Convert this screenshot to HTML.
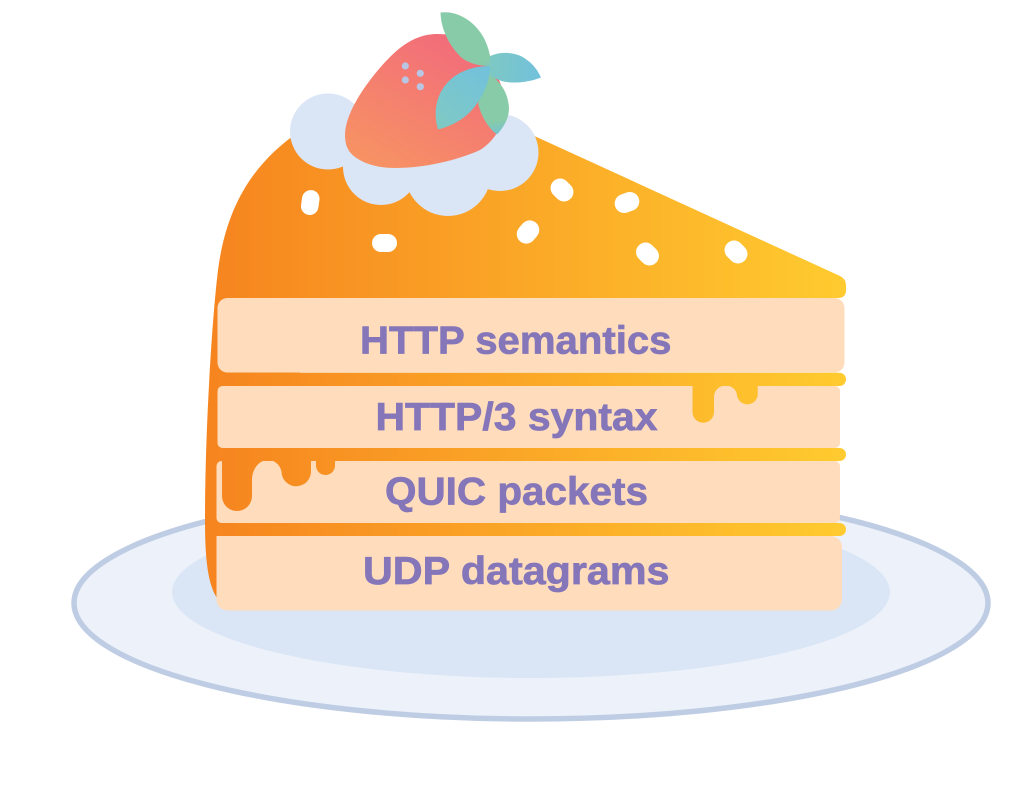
<!DOCTYPE html>
<html>
<head>
<meta charset="utf-8">
<style>
html,body{margin:0;padding:0;background:#fff;width:1028px;height:787px;overflow:hidden}
svg{display:block}
text{font-family:"Liberation Sans",sans-serif;font-weight:700;font-size:38.5px;fill:#8476b8;stroke:#8476b8;stroke-width:0.7px}
</style>
</head>
<body>
<svg width="1028" height="787" viewBox="0 0 1028 787" xmlns="http://www.w3.org/2000/svg">
<defs>
<linearGradient id="cake" gradientUnits="userSpaceOnUse" x1="205" y1="0" x2="846" y2="0">
<stop offset="0" stop-color="#f6841f"/><stop offset="1" stop-color="#ffcb2f"/>
</linearGradient>
<linearGradient id="berry" gradientUnits="userSpaceOnUse" x1="450" y1="40" x2="375" y2="170">
<stop offset="0" stop-color="#f26d7a"/><stop offset="1" stop-color="#f79363"/>
</linearGradient>
<linearGradient id="l1" gradientUnits="userSpaceOnUse" x1="445" y1="15" x2="490" y2="70">
<stop offset="0" stop-color="#88cba8"/><stop offset="0.85" stop-color="#88cba8"/><stop offset="1" stop-color="#7cc6c4"/>
</linearGradient>
<linearGradient id="l2" gradientUnits="userSpaceOnUse" x1="490" y1="70" x2="540" y2="75">
<stop offset="0" stop-color="#7dc8c4"/><stop offset="1" stop-color="#72c1dc"/>
</linearGradient>
<linearGradient id="l3" gradientUnits="userSpaceOnUse" x1="438" y1="125" x2="490" y2="68">
<stop offset="0" stop-color="#7fc9c4"/><stop offset="1" stop-color="#72c1dc"/>
</linearGradient>
<linearGradient id="l4" gradientUnits="userSpaceOnUse" x1="490" y1="80" x2="498" y2="134">
<stop offset="0" stop-color="#88cba8"/><stop offset="0.75" stop-color="#88cba8"/><stop offset="1" stop-color="#76c3d0"/>
</linearGradient>
</defs>

<!-- plate -->
<ellipse cx="531" cy="603" rx="457" ry="116" fill="#edf2fa" stroke="#bfcde4" stroke-width="5.5"/>
<ellipse cx="531" cy="592" rx="359" ry="86" fill="#dae5f5"/>

<!-- cake body -->
<path fill="url(#cake)" d="M300 131 C250 165 226 210 218 270 C212 320 205 430 205 520 C205 565 209 585 217 598 L300 598 L300 298 L838 298 Q846 298 846 290 L846 285 Q846 279 840 276 L530 134 Z"/>

<!-- layers -->
<rect x="217.500" y="298" width="627" height="74.500" rx="10" fill="#fedcbc"/>
<rect x="217.500" y="386" width="622.500" height="62" rx="5" fill="#fedcbc"/>
<rect x="216.500" y="461" width="623.500" height="62" rx="5" fill="#fedcbc"/>
<rect x="216.500" y="536" width="625.500" height="74.500" rx="11" fill="#fedcbc"/>
<path fill="#fedcbc" d="M216.500 536 H240 V560 H216.500 Z"/>

<!-- syrup strips -->
<rect x="212" y="372.700" width="634" height="13.300" rx="6.600" fill="url(#cake)"/>
<rect x="212" y="448" width="634" height="13" rx="6.500" fill="url(#cake)"/>
<rect x="212" y="523" width="634" height="13" rx="6.500" fill="url(#cake)"/>

<!-- drips -->
<path fill="url(#cake)" d="M222 460 V496 A15 15 0 0 0 252 496 V480 C252 469 259 460 268 460 C276 460 281 467 281.500 472 A14.700 14.700 0 0 0 311 471 V460 Z"/>
<path fill="url(#cake)" d="M316 460 V465.500 A9.500 9.500 0 0 0 335 465.500 V460 Z"/>
<path fill="url(#cake)" d="M692.500 385 V412 A10.700 10.700 0 0 0 714 412 V397 C714 390 720 385.500 725.500 385.500 C732 385.500 736.500 390 737 395 A10.400 10.400 0 0 0 757.700 395 V385 Z"/>

<!-- sprinkles -->
<g fill="#fff">
<rect x="301.500" y="190" width="17.500" height="25" rx="8.700" transform="rotate(8 310 202.500)"/>
<rect x="372" y="234" width="25" height="18" rx="9"/>
<rect x="515.750" y="222.500" width="24.500" height="19" rx="9.500" transform="rotate(-50 528 232)"/>
<rect x="549.750" y="180.500" width="24.500" height="19" rx="9.500" transform="rotate(45 562 190)"/>
<rect x="614.500" y="193" width="25" height="19" rx="9.500" transform="rotate(-20 627 202.500)"/>
<rect x="635.250" y="244.500" width="24.500" height="19" rx="9.500" transform="rotate(45 647.500 254)"/>
<rect x="723.750" y="242.500" width="24.500" height="19" rx="9.500" transform="rotate(45 736 252)"/>
</g>

<!-- cream -->
<g fill="#dae5f5">
<circle cx="328" cy="131.500" r="38"/>
<circle cx="381" cy="167" r="38"/>
<circle cx="448" cy="173" r="43"/>
<circle cx="500" cy="152.500" r="38.500"/>
<rect x="346" y="120" width="140" height="45"/>
</g>

<!-- strawberry -->
<path fill="url(#berry)" d="M437 34 C418 34 403 44 390 57 C372 75 345 110 345 135 C345 148 350 154 358 159 C368 165 380 168 395 168 C425 168 458 160 480 150 C488 145 493 139 497 133 L505 100 C500 75 488 55 470 42 C460 36 448 34 437 34 Z"/>
<g fill="#b9c6e3">
<circle cx="405.300" cy="66" r="3.600"/>
<circle cx="420.300" cy="73.300" r="3.600"/>
<circle cx="405.300" cy="80" r="3.600"/>
<circle cx="420.300" cy="86.700" r="3.600"/>
</g>

<!-- leaves -->
<path fill="url(#l4)" d="M489 74 C500 81 508 92 509 108 C509 118 504 127 497 134.500 C488 128 481 116 478 103 Z"/>
<path fill="url(#l2)" d="M486 58 C500 50 518 52 527 60 C534 65 538 71 541 77.500 C527 83 510 84 500 80.500 C496 79 492 77 489 74 Z"/>
<path fill="url(#l1)" d="M440.500 12.500 C460 10 480 25 487 45 C490 53 491 60 490 66 C480 66 470 64 462 58 C450 47 441 30 440.500 12.500 Z"/>
<path fill="url(#l3)" d="M490 66 C478 66 462 69 450 80 C438 91 432 110 438 129.500 C456 125 470 115 478 102 C486 90 490 78 490 66 Z"/>

<!-- labels -->
<text x="360" y="353.500" textLength="311.500" lengthAdjust="spacingAndGlyphs">HTTP semantics</text>
<text x="375.500" y="430" textLength="282" lengthAdjust="spacingAndGlyphs">HTTP/3 syntax</text>
<text x="385" y="504.500" textLength="263" lengthAdjust="spacingAndGlyphs">QUIC packets</text>
<text x="363" y="584" textLength="306.500" lengthAdjust="spacingAndGlyphs">UDP datagrams</text>
</svg>
</body>
</html>
